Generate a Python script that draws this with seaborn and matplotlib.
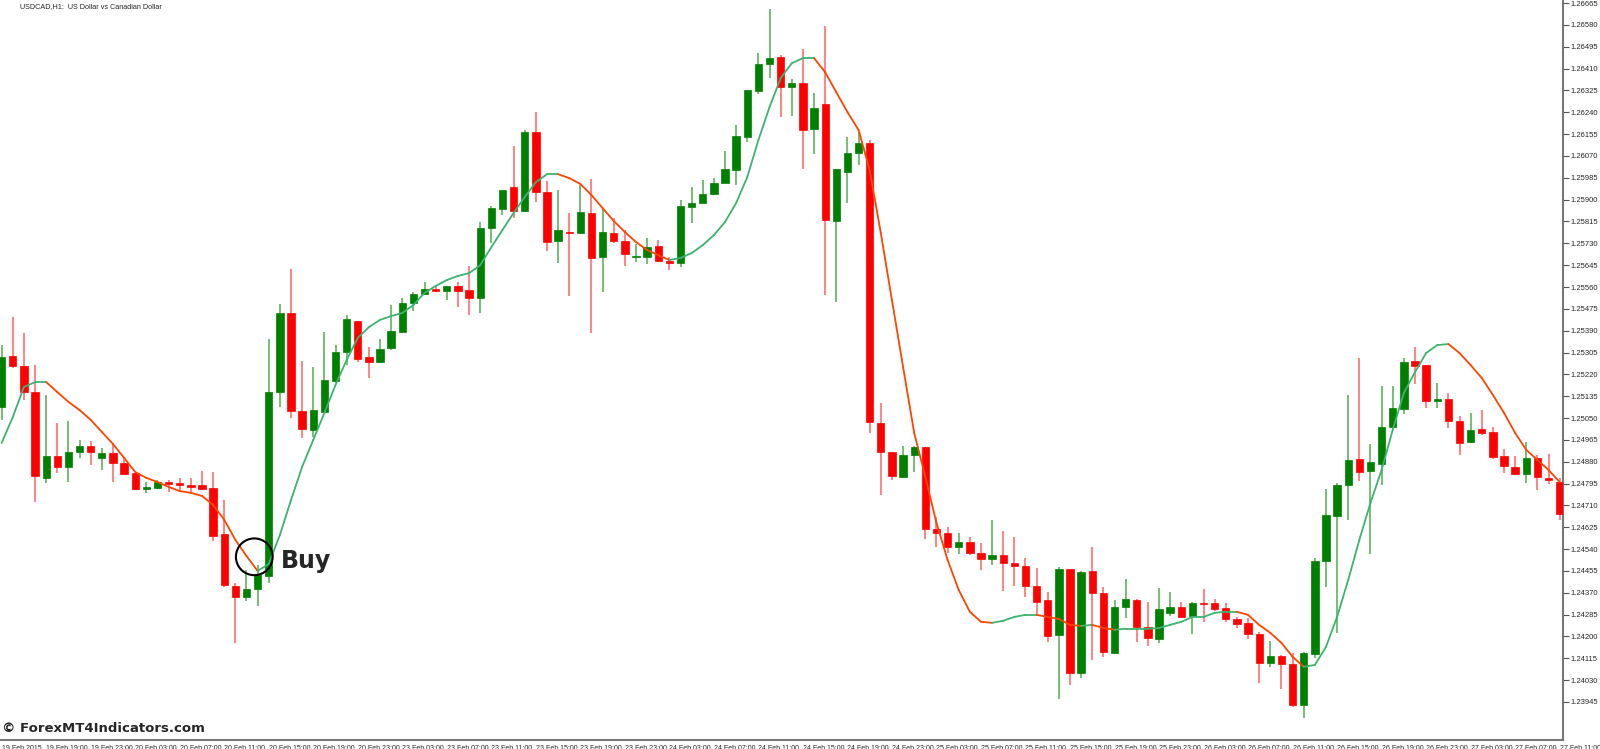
import numpy as np
import pandas as pd
import seaborn as sns
import matplotlib
matplotlib.use("Agg")
import matplotlib.pyplot as plt

# USDCAD H1 candles (open, close, high, low)
opens = [1.25093, 1.25291, 1.25253, 1.25151, 1.24817, 1.24902, 1.24860, 1.24918, 1.24941, 1.24895,
         1.24914, 1.24875, 1.24836, 1.24774, 1.24778, 1.24801, 1.24797, 1.24790, 1.24790, 1.24778,
         1.24599, 1.24397, 1.24354, 1.24385, 1.24436, 1.25151, 1.25459, 1.25078, 1.25004, 1.25074,
         1.25194, 1.25307, 1.25428, 1.25288, 1.25268, 1.25323, 1.25385, 1.25498, 1.25533, 1.25552,
         1.25544, 1.25564, 1.25548, 1.25517, 1.25789, 1.25863, 1.25949, 1.25856, 1.26163, 1.25929,
         1.25739, 1.25774, 1.25770, 1.25848, 1.25677, 1.25770, 1.25739, 1.25677, 1.25677, 1.25719,
         1.25661, 1.25653, 1.25871, 1.25887, 1.25922, 1.25964, 1.26015, 1.26143, 1.26322, 1.26427,
         1.26455, 1.26338, 1.26353, 1.26175, 1.26272, 1.25817, 1.26007, 1.26081, 1.26120, 1.25031,
         1.24918, 1.24821, 1.24906, 1.24937, 1.24619, 1.24603, 1.24548, 1.24568, 1.24525, 1.24502,
         1.24517, 1.24486, 1.24475, 1.24397, 1.24342, 1.24206, 1.24463, 1.24058, 1.24455, 1.24370,
         1.24136, 1.24315, 1.24342, 1.24237, 1.24191, 1.24292, 1.24315, 1.24280, 1.24331, 1.24331,
         1.24311, 1.24268, 1.24253, 1.24210, 1.24097, 1.24124, 1.24093, 1.23934, 1.24132, 1.24494,
         1.24669, 1.24790, 1.24891, 1.24844, 1.24871, 1.25015, 1.25085, 1.25272, 1.25256, 1.25116,
         1.25124, 1.25039, 1.24957, 1.25008, 1.24996, 1.24902, 1.24860, 1.24832, 1.24895, 1.24817,
         1.24801]
closes = [1.25288, 1.25253, 1.25151, 1.24825, 1.24902, 1.24860, 1.24918, 1.24941, 1.24918, 1.24914,
          1.24875, 1.24832, 1.24774, 1.24782, 1.24801, 1.24794, 1.24790, 1.24782, 1.24774, 1.24591,
          1.24401, 1.24354, 1.24385, 1.24440, 1.25151, 1.25459, 1.25078, 1.25008, 1.25081, 1.25198,
          1.25307, 1.25435, 1.25280, 1.25268, 1.25319, 1.25389, 1.25498, 1.25533, 1.25552, 1.25544,
          1.25564, 1.25544, 1.25517, 1.25789, 1.25867, 1.25937, 1.25856, 1.26163, 1.25929, 1.25735,
          1.25782, 1.25770, 1.25852, 1.25673, 1.25774, 1.25739, 1.25688, 1.25680, 1.25715, 1.25661,
          1.25653, 1.25875, 1.25887, 1.25922, 1.25964, 1.26019, 1.26147, 1.26326, 1.26427, 1.26451,
          1.26338, 1.26353, 1.26171, 1.26256, 1.25821, 1.26019, 1.26081, 1.26120, 1.25035, 1.24918,
          1.24825, 1.24906, 1.24937, 1.24619, 1.24603, 1.24548, 1.24568, 1.24525, 1.24502, 1.24517,
          1.24486, 1.24475, 1.24397, 1.24335, 1.24202, 1.24463, 1.24058, 1.24451, 1.24370, 1.24140,
          1.24315, 1.24346, 1.24237, 1.24195, 1.24307, 1.24315, 1.24276, 1.24331, 1.24327, 1.24307,
          1.24268, 1.24249, 1.24210, 1.24097, 1.24124, 1.24093, 1.23934, 1.24136, 1.24494, 1.24673,
          1.24790, 1.24887, 1.24840, 1.24879, 1.25015, 1.25089, 1.25268, 1.25253, 1.25116, 1.25124,
          1.25039, 1.24953, 1.25004, 1.24992, 1.24899, 1.24864, 1.24832, 1.24895, 1.24821, 1.24809,
          1.24677]
highs = [1.25334, 1.25443, 1.25381, 1.25256, 1.25140, 1.25031, 1.25039, 1.24965, 1.24961, 1.24934,
         1.24949, 1.24899, 1.24836, 1.24801, 1.24809, 1.24809, 1.24817, 1.24817, 1.24844, 1.24840,
         1.24731, 1.24408, 1.24459, 1.24478, 1.25358, 1.25494, 1.25630, 1.25272, 1.25249, 1.25385,
         1.25334, 1.25451, 1.25428, 1.25326, 1.25358, 1.25490, 1.25517, 1.25540, 1.25579, 1.25568,
         1.25564, 1.25579, 1.25642, 1.25813, 1.25875, 1.25937, 1.26108, 1.26171, 1.26241, 1.25972,
         1.25937, 1.25848, 1.25957, 1.25980, 1.25867, 1.25828, 1.25782, 1.25727, 1.25751, 1.25743,
         1.25677, 1.25898, 1.25949, 1.25976, 1.25984, 1.26089, 1.26190, 1.26326, 1.26470, 1.26641,
         1.26462, 1.26369, 1.26486, 1.26315, 1.26575, 1.26019, 1.26143, 1.26163, 1.26132, 1.25109,
         1.24918, 1.24941, 1.24941, 1.24937, 1.24665, 1.24626, 1.24603, 1.24587, 1.24564, 1.24654,
         1.24611, 1.24587, 1.24506, 1.24467, 1.24373, 1.24471, 1.24463, 1.24455, 1.24548, 1.24393,
         1.24342, 1.24424, 1.24346, 1.24335, 1.24389, 1.24373, 1.24335, 1.24335, 1.24385, 1.24346,
         1.24331, 1.24276, 1.24272, 1.24218, 1.24183, 1.24128, 1.24136, 1.24140, 1.24506, 1.24774,
         1.24797, 1.25140, 1.25284, 1.24949, 1.25175, 1.25175, 1.25284, 1.25326, 1.25256, 1.25186,
         1.25148, 1.25058, 1.25070, 1.25081, 1.25015, 1.24930, 1.24902, 1.24957, 1.24906, 1.24910,
         1.24817]
lows = [1.25043, 1.25245, 1.25120, 1.24724, 1.24797, 1.24836, 1.24801, 1.24895, 1.24867, 1.24848,
        1.24801, 1.24829, 1.24770, 1.24759, 1.24774, 1.24762, 1.24770, 1.24759, 1.24770, 1.24572,
        1.24393, 1.24175, 1.24338, 1.24319, 1.24408, 1.25093, 1.25050, 1.24973, 1.24976, 1.25074,
        1.25186, 1.25256, 1.25268, 1.25206, 1.25264, 1.25315, 1.25381, 1.25467, 1.25529, 1.25540,
        1.25509, 1.25482, 1.25451, 1.25459, 1.25731, 1.25840, 1.25828, 1.25852, 1.25891, 1.25700,
        1.25653, 1.25525, 1.25770, 1.25381, 1.25540, 1.25731, 1.25642, 1.25657, 1.25649, 1.25657,
        1.25626, 1.25638, 1.25809, 1.25887, 1.25918, 1.25964, 1.25957, 1.26124, 1.26311, 1.26373,
        1.26221, 1.26225, 1.26019, 1.26077, 1.25529, 1.25502, 1.25887, 1.26034, 1.24992, 1.24751,
        1.24809, 1.24821, 1.24840, 1.24580, 1.24548, 1.24525, 1.24521, 1.24517, 1.24459, 1.24478,
        1.24377, 1.24397, 1.24354, 1.24288, 1.24179, 1.23957, 1.24012, 1.24039, 1.24109, 1.24121,
        1.24136, 1.24272, 1.24179, 1.24163, 1.24175, 1.24280, 1.24272, 1.24210, 1.24257, 1.24300,
        1.24257, 1.24233, 1.24191, 1.24019, 1.24082, 1.23996, 1.23926, 1.23883, 1.24117, 1.24393,
        1.24214, 1.24654, 1.24805, 1.24521, 1.24790, 1.25011, 1.25066, 1.25183, 1.25089, 1.25089,
        1.25011, 1.24906, 1.24953, 1.24984, 1.24891, 1.24836, 1.24829, 1.24797, 1.24770, 1.24794,
        1.24654]

# smoothed moving average line
ma = [1.24953, 1.25054, 1.25171, 1.25190, 1.25190, 1.25151, 1.25113, 1.25081, 1.25043, 1.24996,
      1.24949, 1.24895, 1.24840, 1.24817, 1.24801, 1.24782, 1.24766, 1.24759, 1.24747, 1.24712,
      1.24654, 1.24576, 1.24513, 1.24455, 1.24482, 1.24595, 1.24731, 1.24860, 1.24965, 1.25070,
      1.25179, 1.25276, 1.25362, 1.25404, 1.25432, 1.25447, 1.25459, 1.25490, 1.25537, 1.25564,
      1.25587, 1.25603, 1.25614, 1.25645, 1.25715, 1.25782, 1.25848, 1.25910, 1.25968, 1.25999,
      1.25999, 1.25984, 1.25961, 1.25918, 1.25867, 1.25817, 1.25774, 1.25735, 1.25704, 1.25684,
      1.25665, 1.25673, 1.25692, 1.25723, 1.25762, 1.25813, 1.25887, 1.25988, 1.26132, 1.26260,
      1.26373, 1.26431, 1.26451, 1.26451, 1.26396, 1.26318, 1.26241, 1.26171, 1.26015, 1.25770,
      1.25509, 1.25249, 1.24992, 1.24821, 1.24642, 1.24498, 1.24381, 1.24296, 1.24257, 1.24253,
      1.24261, 1.24276, 1.24284, 1.24284, 1.24276, 1.24268, 1.24245, 1.24241, 1.24245, 1.24233,
      1.24226, 1.24230, 1.24230, 1.24230, 1.24233, 1.24245, 1.24257, 1.24276, 1.24276, 1.24292,
      1.24296, 1.24296, 1.24284, 1.24245, 1.24214, 1.24175, 1.24121, 1.24082, 1.24089, 1.24159,
      1.24276, 1.24420, 1.24576, 1.24720, 1.24848, 1.25004, 1.25148, 1.25229, 1.25303, 1.25334,
      1.25338, 1.25303, 1.25256, 1.25206, 1.25140, 1.25070, 1.24992, 1.24926, 1.24887, 1.24848,
      1.24801]

time_labels = ["19 Feb 2015", "19 Feb 19:00", "19 Feb 23:00",
               "20 Feb 03:00", "20 Feb 07:00", "20 Feb 11:00", "20 Feb 15:00", "20 Feb 19:00", "20 Feb 23:00",
               "23 Feb 03:00", "23 Feb 07:00", "23 Feb 11:00", "23 Feb 15:00", "23 Feb 19:00", "23 Feb 23:00",
               "24 Feb 03:00", "24 Feb 07:00", "24 Feb 11:00", "24 Feb 15:00", "24 Feb 19:00", "24 Feb 23:00",
               "25 Feb 03:00", "25 Feb 07:00", "25 Feb 11:00", "25 Feb 15:00", "25 Feb 19:00", "25 Feb 23:00",
               "26 Feb 03:00", "26 Feb 07:00", "26 Feb 11:00", "26 Feb 15:00", "26 Feb 19:00", "26 Feb 23:00",
               "27 Feb 03:00", "27 Feb 07:00", "27 Feb 11:00"]
price_ticks = [1.26665, 1.26580, 1.26495, 1.26410, 1.26325, 1.26240, 1.26155, 1.26070, 1.25985,
               1.25900, 1.25815, 1.25730, 1.25645, 1.25560, 1.25475, 1.25390, 1.25305, 1.25220,
               1.25135, 1.25050, 1.24965, 1.24880, 1.24795, 1.24710, 1.24625, 1.24540, 1.24455,
               1.24370, 1.24285, 1.24200, 1.24115, 1.24030, 1.23945]
buy_bar = 23

sns.set_theme(style="white")
plt.rcParams["font.family"] = ["DejaVu Sans"]
narrow = ["Liberation Sans Narrow", "Liberation Sans", "DejaVu Sans"]

df = pd.DataFrame({"o": opens, "c": closes, "h": highs, "l": lows, "ma": ma})
df["i"] = np.arange(len(df))
up = df["c"] >= df["o"]

fig = plt.figure(figsize=(16, 7.49), dpi=100)
ax = fig.add_axes([0, 1 - 740 / 749, 1563 / 1600, 740 / 749])

# wicks
ax.vlines(df["i"][up], df["l"][up], df["h"][up], color="#5fb35f", lw=1.2, zorder=2)
ax.vlines(df["i"][~up], df["l"][~up], df["h"][~up], color="#ff7070", lw=1.2, zorder=2)
# bodies
ax.bar(df["i"][up], (df["c"] - df["o"])[up], bottom=df["o"][up], width=0.66,
       color="#008000", edgecolor="#008000", lw=0.5, zorder=3)
ax.bar(df["i"][~up], (df["o"] - df["c"])[~up], bottom=df["c"][~up], width=0.66,
       color="#ff0000", edgecolor="#ff0000", lw=0.5, zorder=3)

# moving average, green while rising, orange-red while falling
for k in range(len(df) - 1):
    seg = df.iloc[k:k + 2]
    col = "#3cb371" if seg["ma"].iloc[1] >= seg["ma"].iloc[0] else "#ff4500"
    sns.lineplot(data=seg, x="i", y="ma", color=col, lw=1.3, ax=ax, zorder=4)

# buy marker
ax.scatter([buy_bar - 0.3], [df["ma"][buy_bar] + 0.00055], s=700, facecolors="none",
           edgecolors="black", lw=1.5, zorder=5)
ax.text(buy_bar + 2.1, df["ma"][buy_bar] + 0.0004, "Buy", fontsize=17, fontweight="bold",
        va="center", ha="left", zorder=5)

ax.set_xlim(-0.15, 140.3)
ax.set_ylim(1.23797, 1.26677)
ax.set_xlabel("")
ax.set_ylabel("")
ax.set_xticks(np.arange(0, 4 * len(time_labels), 4))
ax.set_xticklabels(time_labels, fontsize=5, ha="left", family=narrow)
ax.set_yticks(price_ticks)
ax.set_yticklabels([f"{p:.5f}" for p in price_ticks], fontsize=5.5, family=narrow)
ax.yaxis.tick_right()
ax.tick_params(axis="y", direction="out", length=4, width=0.8, color="#555555", pad=1.5)
ax.tick_params(axis="x", direction="out", length=3, width=0.8, color="#555555", pad=0.5)
for s in ["top", "left"]:
    ax.spines[s].set_visible(False)
for s in ["right", "bottom"]:
    ax.spines[s].set_color("#777777")
    ax.spines[s].set_linewidth(1.5)

fig.text(20 / 1600, 1 - 7 / 749, "USDCAD,H1:  US Dollar vs Canadian Dollar", fontsize=5.2,
         va="center", ha="left", family=narrow)
fig.text(2 / 1600, 1 - 729 / 749, "\u00a9 ForexMT4Indicators.com", fontsize=9.5,
         fontweight="bold", va="center", ha="left")

fig.savefig("out.png", dpi=100)
